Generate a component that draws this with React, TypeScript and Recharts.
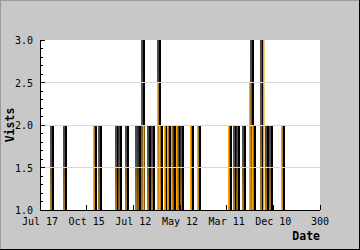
import React from 'react';
import { ComposedChart, Bar, XAxis, YAxis, ReferenceLine, CartesianGrid } from 'recharts';

// Spike days (x index) and visit counts
const days = [13, 27, 59, 64, 82, 86, 93, 104, 106, 110, 117, 121, 127, 130, 135, 138, 142, 144, 149, 152, 163, 170, 204, 209, 212, 219, 227, 229, 238, 243, 248, 260];
const visits = [2, 2, 2, 2, 2, 2, 2, 2, 2, 3, 2, 2, 3, 2, 2, 2, 2, 2, 2, 2, 2, 2, 2, 2, 2, 2, 3, 2, 3, 2, 2, 2];
// Bright orange highlight bars
const highlightDays = [58, 111, 126, 129, 134, 137, 141, 147, 162, 169, 203, 225, 228, 240, 259];
const highlightVisits = [2, 2, 2.5, 2, 2, 2, 2, 2, 2, 2, 2, 2.5, 2, 3, 2];

const xTicks = [0, 50, 100, 150, 200, 250, 300];
const xTickLabels = ['Jul 17', 'Oct 15', 'Jul 12', 'May 12', 'Mar 11', 'Dec 10', '300'];
const yTicks = [1.0, 1.1, 1.2, 1.3, 1.4, 1.5, 1.6, 1.7, 1.8, 1.9, 2.0, 2.1, 2.2, 2.3, 2.4, 2.5, 2.6, 2.7, 2.8, 2.9, 3.0];
const yMajorTicks = [1.0, 1.5, 2.0, 2.5, 3.0];
const gridValues = [1.5, 2.0, 2.5];

type Row = { day: number; visits: number | null; highlight: number | null };
const rowMap = new Map<number, Row>();
days.forEach((d, i) => rowMap.set(d, { day: d, visits: visits[i], highlight: null }));
highlightDays.forEach((d, i) => {
  const r = rowMap.get(d);
  if (r) r.highlight = highlightVisits[i];
  else rowMap.set(d, { day: d, visits: null, highlight: highlightVisits[i] });
});
const rows: Row[] = Array.from(rowMap.values()).sort((a, b) => a.day - b.day);

const FONT = '"DejaVu Sans Mono", monospace';

const DarkSpike = (p: any) => {
  if (p.payload == null || p.payload.visits == null || !(p.height > 0)) return <g />;
  const cx = Math.round(p.x + p.width / 2);
  return (
    <g>
      <rect x={cx - 2} y={p.y} width={2} height={p.height} fill="url(#spikeShade)" fillOpacity={0.9} />
      <rect x={cx} y={p.y} width={2} height={p.height} fill="#000" />
    </g>
  );
};

const OrangeSpike = (p: any) => {
  if (p.payload == null || p.payload.highlight == null || !(p.height > 0)) return <g />;
  const cx = Math.round(p.x + p.width / 2);
  return <rect x={cx - 1} y={p.y} width={1.5} height={p.height} fill="#ffa500" />;
};

const XTick = (p: any) => {
  const { x, y, payload } = p;
  const idx = xTicks.indexOf(payload.value);
  return (
    <g>
      <line x1={x} x2={x} y1={y} y2={y - 5} stroke="#000" shapeRendering="crispEdges" />
      <text x={x} y={y + 15} textAnchor="middle" fontFamily={FONT} fontSize={10} fill="#000">
        {xTickLabels[idx]}
      </text>
    </g>
  );
};

const YTick = (p: any) => {
  const { x, y, payload } = p;
  const v = payload.value as number;
  const major = yMajorTicks.some((m) => Math.abs(m - v) < 1e-6);
  return (
    <g>
      <line x1={x} x2={x + (major ? 5 : 3)} y1={y} y2={y} stroke="#000" shapeRendering="crispEdges" />
      {major && (
        <text x={x - 7} y={y + 4} textAnchor="end" fontFamily={FONT} fontSize={10} fill="#000">
          {v.toFixed(1)}
        </text>
      )}
    </g>
  );
};

export default function App() {
  return (
    <div
      style={{
        position: 'absolute',
        left: 0,
        top: 0,
        width: 360,
        height: 250,
        background: '#c8c8c8',
        boxShadow: 'inset -1px -1px 0 #000, inset 1px 1px 0 #9a9a9a',
      }}
    >
      <ComposedChart width={360} height={250} data={rows} margin={{ top: 40, right: 40, bottom: 0, left: 0 }}>
        <defs>
          <linearGradient id="spikeShade" x1="0" y1="0" x2="0" y2="1">
            <stop offset="0%" stopColor="#333333" />
            <stop offset="50%" stopColor="#444444" />
            <stop offset="50%" stopColor="#6a4708" />
            <stop offset="100%" stopColor="#a06c10" />
          </linearGradient>
        </defs>
        <CartesianGrid fill="#fff" horizontal={false} vertical={false} stroke="none" />
        {gridValues.map((g) => (
          <ReferenceLine key={g} y={g} stroke="#d8d8d8" shapeRendering="crispEdges" />
        ))}
        <XAxis
          dataKey="day"
          type="number"
          domain={[0, 300]}
          ticks={xTicks}
          interval={0}
          height={40}
          tickSize={0}
          tickMargin={0}
          tickLine={false}
          axisLine={{ stroke: '#000', shapeRendering: 'crispEdges' }}
          tick={<XTick />}
          label={{
            content: (lp: any) => {
              const vb = lp.viewBox;
              return (
                <text x={vb.x + vb.width} y={vb.y + 30} textAnchor="end" fontFamily={FONT} fontWeight="bold" fontSize={11.5} fill="#000">
                  Date
                </text>
              );
            },
          }}
        />
        <XAxis xAxisId="hl" dataKey="day" type="number" domain={[0, 300]} hide />
        <YAxis
          type="number"
          domain={[1, 3]}
          ticks={yTicks}
          interval={0}
          width={40}
          tickSize={0}
          tickMargin={0}
          tickLine={false}
          axisLine={{ stroke: '#000', shapeRendering: 'crispEdges' }}
          tick={<YTick />}
          allowDataOverflow
          label={{
            content: (lp: any) => {
              const vb = lp.viewBox;
              const cy = vb.y + vb.height / 2;
              return (
                <text x={14} y={cy} transform={`rotate(-90 14 ${cy})`} textAnchor="middle" fontFamily={FONT} fontWeight="bold" fontSize={11.5} fill="#000">
                  Vists
                </text>
              );
            },
          }}
        />
        <Bar dataKey="visits" shape={<DarkSpike />} isAnimationActive={false} />
        <Bar dataKey="highlight" xAxisId="hl" shape={<OrangeSpike />} isAnimationActive={false} />
      </ComposedChart>
    </div>
  );
}
